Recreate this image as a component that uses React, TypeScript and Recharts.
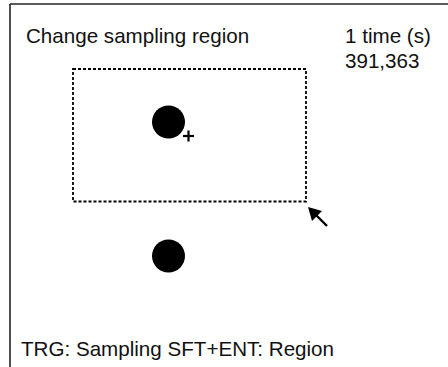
import React from 'react';
import { ScatterChart, Scatter, XAxis, YAxis, ReferenceArea, ReferenceLine } from 'recharts';

// screen coordinates (origin at the frame's top-left corner, y grows downwards)
const spots = [
  { x: 158.5, y: 118 },
  { x: 158.5, y: 252 },
];

const samplingRegion = { x1: 63, x2: 296, y1: 65, y2: 197.5 };

const cursorMark = [{ x: 178.5, y: 132 }];

const pointerTip = [{ x: 298, y: 203 }];

const captions = [
  { x: 16, y: 38.7, text: 'Change sampling region' },
  { x: 335, y: 38.7, text: '1 time (s)' },
  { x: 335, y: 64.3, text: '391,363' },
  { x: 11, y: 351.7, text: 'TRG: Sampling SFT+ENT: Region' },
];

const FONT = '"Liberation Sans", Arial, Helvetica, sans-serif';

const SpotShape = (props: any) => <circle cx={props.cx} cy={props.cy} r={16.5} fill="#000" />;

const CrossShape = (props: any) => {
  const { cx, cy } = props;
  return (
    <g stroke="#000" strokeWidth={2.2}>
      <line x1={cx - 5.5} y1={cy} x2={cx + 5.5} y2={cy} />
      <line x1={cx} y1={cy - 5.5} x2={cx} y2={cy + 5.5} />
    </g>
  );
};

const ArrowShape = (props: any) => {
  const { cx, cy } = props;
  return (
    <g>
      <line x1={cx + 6} y1={cy + 6} x2={cx + 19} y2={cy + 19} stroke="#000" strokeWidth={2.4} />
      <polygon points={`${cx},${cy} ${cx + 14},${cy + 4} ${cx + 4},${cy + 14}`} fill="#000" />
    </g>
  );
};

const CaptionShape = (props: any) => (
  <text x={props.cx} y={props.cy} fontFamily={FONT} fontSize={20.6} fill="#111" textAnchor="start">
    {props.payload.text}
  </text>
);

const App = () => {
  return (
    <div style={{ position: 'absolute', left: 0, top: 0, width: 448, height: 367, background: '#fff' }}>
      <ScatterChart width={448} height={367} margin={{ top: 4, right: 0, bottom: 0, left: 10 }}>
        <XAxis type="number" dataKey="x" domain={[0, 438]} hide allowDataOverflow />
        <YAxis type="number" dataKey="y" domain={[0, 363]} reversed hide allowDataOverflow />
        <ReferenceLine y={0} stroke="#222" strokeWidth={1.6} ifOverflow="visible" />
        <ReferenceLine x={0} stroke="#222" strokeWidth={1.6} ifOverflow="visible" />
        <ReferenceArea
          x1={samplingRegion.x1}
          x2={samplingRegion.x2}
          y1={samplingRegion.y1}
          y2={samplingRegion.y2}
          fill="none"
          fillOpacity={0}
          stroke="#000"
          strokeWidth={1.8}
          strokeDasharray="3 2"
        />
        <Scatter data={spots} shape={SpotShape} isAnimationActive={false} />
        <Scatter data={cursorMark} shape={CrossShape} isAnimationActive={false} />
        <Scatter data={pointerTip} shape={ArrowShape} isAnimationActive={false} />
        <Scatter data={captions} shape={CaptionShape} isAnimationActive={false} />
      </ScatterChart>
    </div>
  );
};

export default App;
